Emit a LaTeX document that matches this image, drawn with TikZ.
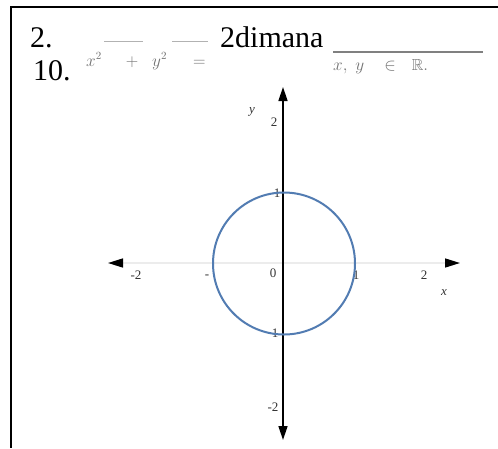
\documentclass[tikz,border=0pt]{standalone}
\usepackage{fontspec}
\setmainfont{Liberation Serif}
\usepackage{amssymb}
\usetikzlibrary{arrows.meta}
\definecolor{circblue}{RGB}{82,124,178}
\begin{document}
\begin{tikzpicture}[x=1pt,y=-1pt,
  big/.style={font=\fontsize{30}{36}\selectfont, anchor=base west, inner sep=0},
  faint/.style={text=black!55, font=\fontsize{16}{18}\selectfont, inner sep=0, anchor=base west},
  axlab/.style={text=black!80, font=\fontsize{13}{15}\selectfont, inner sep=0},
  frameline/.style={line width=2pt},
  yaxis/.style={line width=1.5pt, {Triangle[length=14pt,width=9pt]}-{Triangle[length=14pt,width=9pt]}},
  xaxis/.style={gray!15, line width=1.5pt, {Triangle[length=15pt,width=9pt,color=black]}-{Triangle[length=15pt,width=9pt,color=black]}},
  unit/.style={circle, draw=circblue, line width=2pt, minimum size=142pt, inner sep=0}]
\useasboundingbox (0,0) rectangle (498,448);
\fill[white] (0,0) rectangle (498,448);
% frame
\coordinate (fTR) at (498,7);
\coordinate (fTL) at (11,7);
\coordinate (fBL) at (11,448);
\draw[frameline] (fTR) -- (fTL) -- (fBL);
% heading text
\node[big] (n2) at (30,47) {2.};
\node[big] (n10) at (33,80) {10.};
\node[big] (dim) at (220,47) {2dimana};
\coordinate (blankL) at (333,52);
\coordinate (blankR) at (483,52);
\draw[gray, line width=1.2pt] (blankL) -- (blankR);
\node[faint] (eq) at (86,66) {$x^{2}$\hspace{24pt}$+$\hspace{14pt}$y^{2}$\hspace{26pt}$=$};
\coordinate (o1a) at (104,41); \coordinate (o1b) at (143,41);
\coordinate (o2a) at (172,41); \coordinate (o2b) at (208,41);
\draw[gray!60, line width=1pt] (o1a) -- (o1b) (o2a) -- (o2b);
\node[faint] (xyr) at (333,70) {$x,$\hspace{8pt}$y$\hspace{20pt}$\in$\hspace{16pt}$\mathbb{R}.$};
% axes
\coordinate (ytop) at (283,87);
\coordinate (ybot) at (283,440);
\coordinate (xl) at (108,263);
\coordinate (xr) at (460,263);
\draw[xaxis] (xl) -- (xr);
% tick labels
\node[axlab] (ly) at (252,112) {\itshape y};
\node[axlab] (l2t) at (274,122) {2};
\node[axlab] (lm2l) at (136,275) {-2};
\node[axlab] (lm1) at (207,277) {-};
\node[axlab] (l0) at (273,273) {0};
\node[axlab] (l1r) at (356,275) {1};
\node[axlab] (l2r) at (424,275) {2};
\node[axlab] (lx) at (444,293) {\itshape x};
\node[axlab] (l1t) at (277,193) {1};
\node[axlab] (l1b) at (275,333) {1};
\node[axlab] (lm2b) at (273,407) {-2};
\draw[yaxis] (ybot) -- (ytop);
% circle
\node[unit] (c) at (284,263.5) {};
\end{tikzpicture}
\end{document}
